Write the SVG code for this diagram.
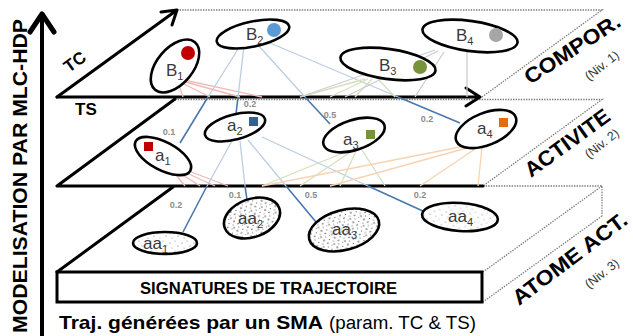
<svg xmlns="http://www.w3.org/2000/svg" width="633" height="336" viewBox="0 0 633 336">
<defs>
<style>
.axis{stroke:#000;stroke-width:3;fill:none;stroke-linecap:round;stroke-linejoin:round}
.dotl{stroke:#7a7a7a;stroke-width:1.3;stroke-dasharray:1.4 1.2;fill:none}
.node{fill:#fff;stroke:#000;stroke-width:2.6}
.lbl{font-family:"Liberation Sans",Arial,sans-serif;font-size:17px;fill:#3a3a3a}
.sub{font-size:11px}
.w{font-family:"Liberation Sans",Arial,sans-serif;font-size:9px;font-weight:bold;fill:#8c8c8c;text-anchor:middle}
.strong{stroke:#4a78ad;stroke-width:1.6;fill:none}
.fpink{stroke:#f2b8b8;stroke-width:1.3;fill:none}
.fblue{stroke:#bccde3;stroke-width:1.3;fill:none}
.fgreen{stroke:#d6e0bd;stroke-width:1.3;fill:none}
.fgray{stroke:#cdcdcd;stroke-width:1.3;fill:none}
.forange{stroke:#f7d3b3;stroke-width:1.3;fill:none}
.lvl{font-family:"Liberation Sans",Arial,sans-serif;font-weight:bold;font-size:21px;fill:#000}
.niv{font-family:"Liberation Sans",Arial,sans-serif;font-size:12.5px;fill:#333}
.bold{font-family:"Liberation Sans",Arial,sans-serif;font-weight:bold;fill:#000}
</style>
<pattern id="sparse" width="12" height="10" patternUnits="userSpaceOnUse">
<rect width="12" height="10" fill="#fff"/>
<circle cx="2" cy="3" r="0.6" fill="#777"/><circle cx="7" cy="1" r="0.5" fill="#888"/>
<circle cx="10" cy="6" r="0.6" fill="#777"/><circle cx="4" cy="8" r="0.5" fill="#888"/>
</pattern>
<pattern id="dense" width="11" height="10" patternUnits="userSpaceOnUse">
<rect width="11" height="10" fill="#fff"/>
<circle cx="1" cy="1" r="0.7" fill="#333"/><circle cx="5.5" cy="2" r="0.6" fill="#555"/>
<circle cx="3" cy="5" r="0.8" fill="#333"/><circle cx="8.5" cy="5.5" r="0.6" fill="#444"/>
<circle cx="1" cy="8" r="0.6" fill="#555"/><circle cx="6" cy="8.5" r="0.7" fill="#333"/>
<circle cx="9.5" cy="1.5" r="0.5" fill="#666"/>
</pattern>
</defs>
<rect width="633" height="336" fill="#fff"/>

<!-- Planes / axes -->
<g id="planes">
<path class="dotl" d="M177,10 L602,10 L482,97"/>
<path class="dotl" d="M175,99.5 L602,99.5 L483,186"/>
<path class="dotl" d="M483,186 L602,186 L602,216 M602,186 L483,272 M602,216 L483,302"/>
<path class="axis" d="M57,97 L480,97 M466,88 L480,97 L466,106"/>
<path class="axis" d="M57,97 L177,10 M161,12 L177,10 L172,25"/>
<path class="axis" d="M57,186 L483,186 M57,186 L175,99"/>
<path class="axis" d="M57,272 L173,187"/>
<rect x="57" y="272" width="425" height="30" fill="#fff" stroke="#000" stroke-width="3"/>
<path d="M42,336 L42,15" stroke="#000" stroke-width="4" fill="none"/>
<path d="M30,32 L42,14 L54,32" stroke="#000" stroke-width="5" fill="none" stroke-linecap="round" stroke-linejoin="round"/>
</g>

<!-- Connectors -->
<g id="connectors">
<path class="fpink" d="M178,82 L183,97 M180,82 L210,97 M182,81 L240,97 M184,80 L262,97"/>
<path class="fblue" d="M240,46 L208,97 M244,46 L238,97 M258,45 L305,97 M270,43 L398,97"/>
<path class="fgreen" d="M365,79 L300,97 M368,79 L330,97 M372,79 L355,97 M378,79 L395,97"/>
<path class="fgray" d="M435,50 L300,97 M438,51 L345,97 M444,52 L415,97 M467,52 L467,97"/>
<path class="strong" d="M208,97 L180,143 M238,97 L236,114 M305,97 L330,124 M398,97 L460,123"/>
<path class="fpink" d="M172,170 L185,186 M175,170 L200,186 M178,169 L215,186 M181,168 L228,186"/>
<path class="fblue" d="M232,141 L207,186 M240,141 L245,186 M248,140 L286,186 M262,137 L368,186"/>
<path class="fgreen" d="M348,151 L262,186 M352,151 L300,186 M356,151 L340,186 M362,150 L385,186"/>
<path class="forange" d="M470,145 L262,186 M474,146 L330,186 M478,147 L420,186 M482,147 L478,186"/>
<path class="strong" d="M207,186 L183,232 M245,186 L247,200 M286,186 L316,222 M368,186 L425,212"/>
<text class="w" x="169" y="135">0.1</text>
<text class="w" x="250" y="107">0.2</text>
<text class="w" x="330" y="118">0.5</text>
<text class="w" x="427" y="122">0.2</text>
<text class="w" x="176" y="208">0.2</text>
<text class="w" x="235" y="198">0.1</text>
<text class="w" x="311" y="198">0.5</text>
<text class="w" x="420" y="198">0.2</text>
</g>

<!-- Level 1 nodes -->
<g id="B1">
<ellipse class="node" cx="175" cy="66" rx="31" ry="18" transform="rotate(-50 175 66)"/>
<circle cx="188" cy="53" r="7" fill="#c00000"/>
<text class="lbl" x="166" y="76">B<tspan class="sub" dy="4">1</tspan></text>
</g>
<g id="B2">
<ellipse class="node" cx="253" cy="34" rx="37" ry="12.5" transform="rotate(-12 253 34)"/>
<circle cx="274" cy="30" r="7" fill="#5b9bd5"/>
<text class="lbl" x="246" y="40">B<tspan class="sub" dy="4">2</tspan></text>
</g>
<g id="B3">
<ellipse class="node" cx="388" cy="64" rx="48" ry="15" transform="rotate(8 388 64)"/>
<circle cx="420" cy="67" r="7" fill="#77933c"/>
<text class="lbl" x="379" y="71">B<tspan class="sub" dy="4">3</tspan></text>
</g>
<g id="B4">
<ellipse class="node" cx="470" cy="36" rx="48" ry="15" transform="rotate(8 470 36)"/>
<circle cx="496" cy="35" r="7" fill="#a6a6a6"/>
<text class="lbl" x="456" y="41">B<tspan class="sub" dy="4">4</tspan></text>
</g>

<!-- Level 2 nodes -->
<g id="a1">
<ellipse class="node" cx="163" cy="156" rx="31" ry="14" transform="rotate(28 163 156)"/>
<rect x="144" y="142" width="9" height="9" fill="#c00000"/>
<text class="lbl" x="155" y="161" font-size="19">a<tspan class="sub" dy="4">1</tspan></text>
</g>
<g id="a2">
<ellipse class="node" cx="235" cy="127" rx="31" ry="12.5" transform="rotate(-15 235 127)"/>
<rect x="249" y="117" width="9" height="9" fill="#376092"/>
<text class="lbl" x="227" y="131" font-size="19">a<tspan class="sub" dy="4">2</tspan></text>
</g>
<g id="a3">
<ellipse class="node" cx="354" cy="135" rx="32" ry="15" transform="rotate(-18 354 135)"/>
<rect x="366" y="130" width="9" height="9" fill="#77933c"/>
<text class="lbl" x="343" y="145" font-size="19">a<tspan class="sub" dy="4">3</tspan></text>
</g>
<g id="a4">
<ellipse class="node" cx="486" cy="129" rx="32" ry="16" transform="rotate(-22 486 129)"/>
<rect x="499" y="118" width="9" height="9" fill="#e46c0a"/>
<text class="lbl" x="477" y="134" font-size="19">a<tspan class="sub" dy="4">4</tspan></text>
</g>

<!-- Level 3 nodes -->
<g id="aa1">
<ellipse cx="165" cy="243" rx="32" ry="11" fill="url(#sparse)" stroke="#000" stroke-width="2.6"/>
<text class="lbl" x="143" y="249">aa<tspan class="sub" dy="4">1</tspan></text>
</g>
<g id="aa2">
<ellipse cx="252" cy="218" rx="29" ry="19" fill="url(#dense)" stroke="#000" stroke-width="2.6" transform="rotate(-20 252 218)"/>
<text class="lbl" x="238" y="224">aa<tspan class="sub" dy="4">2</tspan></text>
</g>
<g id="aa3">
<ellipse cx="344" cy="230" rx="36" ry="20" fill="url(#dense)" stroke="#000" stroke-width="2.6" transform="rotate(-15 344 230)"/>
<text class="lbl" x="332" y="235">aa<tspan class="sub" dy="4">3</tspan></text>
</g>
<g id="aa4">
<ellipse cx="460" cy="217" rx="38" ry="14" fill="url(#sparse)" stroke="#000" stroke-width="2.6" transform="rotate(4 460 217)"/>
<text class="lbl" x="448" y="222">aa<tspan class="sub" dy="4">4</tspan></text>
</g>

<!-- Texts -->
<g id="labels">
<text class="bold" font-size="17" transform="translate(69 73) rotate(-36)">TC</text>
<text class="bold" font-size="17" x="75" y="115">TS</text>
<text class="bold" font-size="21" textLength="314" lengthAdjust="spacingAndGlyphs" transform="translate(26.5 333) rotate(-90)">MODELISATION PAR MLC-HDP</text>
<text class="bold" font-size="16" x="268.5" y="294" text-anchor="middle" textLength="257" lengthAdjust="spacingAndGlyphs">SIGNATURES DE TRAJECTOIRE</text>
<text class="bold" font-size="19" x="59" y="329" textLength="264" lengthAdjust="spacingAndGlyphs">Traj. générées par un SMA</text>
<text font-family="Liberation Sans, Arial, sans-serif" font-size="19" fill="#000" x="329" y="329" textLength="147" lengthAdjust="spacingAndGlyphs">(param. TC &amp; TS)</text>
<text class="lvl" textLength="110" lengthAdjust="spacingAndGlyphs" transform="translate(530 85) rotate(-33)">COMPOR.</text>
<text class="niv" transform="translate(589 81) rotate(-38)">(Niv. 1)</text>
<text class="lvl" textLength="100" lengthAdjust="spacingAndGlyphs" transform="translate(531 178) rotate(-36)">ACTIVITE</text>
<text class="niv" transform="translate(589 159) rotate(-38)">(Niv. 2)</text>
<text class="lvl" textLength="138" lengthAdjust="spacingAndGlyphs" transform="translate(519 306) rotate(-37)">ATOME ACT.</text>
<text class="niv" transform="translate(589 289) rotate(-38)">(Niv. 3)</text>
</g>
</svg>
